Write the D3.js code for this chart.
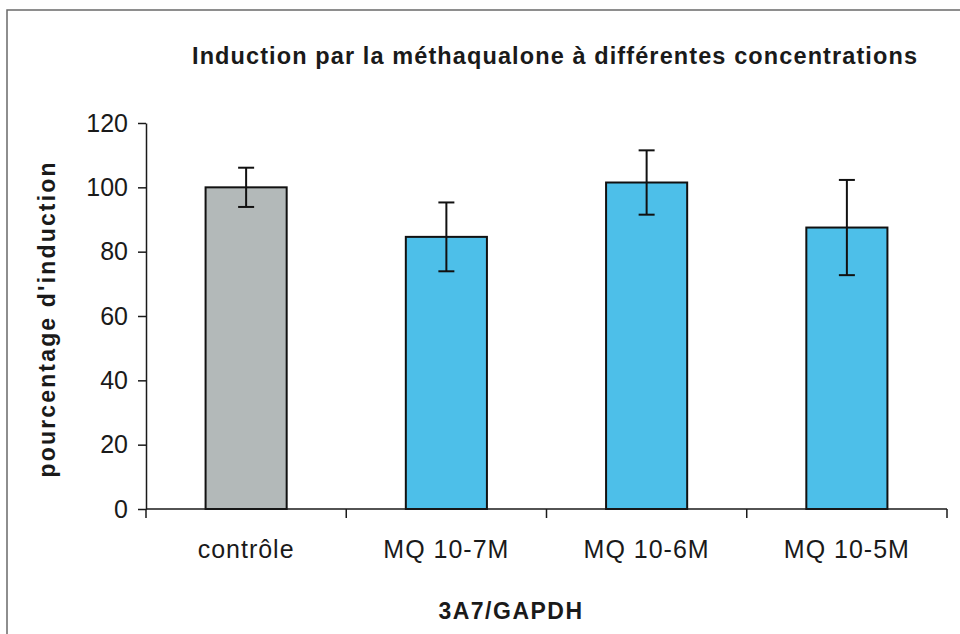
<!DOCTYPE html>
<html>
<head>
<meta charset="utf-8">
<script src="https://cdn.jsdelivr.net/npm/d3@7"></script>
<style>
  html, body { margin: 0; padding: 0; background: #fff; }
  svg { display: block; }
  text { font-family: "Liberation Sans", Arial, Helvetica, sans-serif; fill: #1a1a1a; }
</style>
</head>
<body>
<svg id="chart" width="960" height="634"></svg>
<script>
// Data
const categories = ["contrôle", "MQ 10-7M", "MQ 10-6M", "MQ 10-5M"];
const values = [100, 84.6, 101.5, 87.5];
const errors = [6.1, 10.7, 10.0, 14.8];
const yTicks = [0, 20, 40, 60, 80, 100, 120];
const barColors = ["#b3b9b9", "#4dbfe9"];

const titleText = "Induction par la méthaqualone à différentes concentrations";
const yTitleText = "pourcentage d'induction";
const xTitleText = "3A7/GAPDH";

const W = 960, H = 634;
const plot = { left: 146, right: 947, top: 123, bottom: 509 };

const svg = d3.select("#chart");

svg.append("rect").attr("width", W).attr("height", H).attr("fill", "#fff");

// Outer chart frame (top and left edges)
svg.append("path")
  .attr("d", `M7,${H} L7,10 L${W},10`)
  .attr("fill", "none")
  .attr("stroke", "#6a6a6a")
  .attr("stroke-width", 1.5);

const x = d3.scaleBand()
  .domain(categories)
  .range([plot.left, plot.right])
  .padding(0);

const y = d3.scaleLinear()
  .domain([0, 120])
  .range([plot.bottom, plot.top]);

const barW = x.bandwidth() * 0.405;

// Bars
svg.append("g").selectAll("rect")
  .data(categories)
  .join("rect")
  .attr("x", d => x(d) + x.bandwidth() / 2 - barW / 2)
  .attr("y", (d, i) => y(values[i]))
  .attr("width", barW)
  .attr("height", (d, i) => y(0) - y(values[i]))
  .attr("fill", (d, i) => i === 0 ? barColors[0] : barColors[1])
  .attr("stroke", "#111")
  .attr("stroke-width", 2);

// Error bars
const capW = 16;
const eg = svg.append("g").attr("stroke", "#111").attr("stroke-width", 2);
categories.forEach((c, i) => {
  const cx = x(c) + x.bandwidth() / 2;
  const hi = y(values[i] + errors[i]);
  const lo = y(values[i] - errors[i]);
  eg.append("line").attr("x1", cx).attr("x2", cx).attr("y1", hi).attr("y2", lo);
  eg.append("line").attr("x1", cx - capW / 2).attr("x2", cx + capW / 2).attr("y1", hi).attr("y2", hi);
  eg.append("line").attr("x1", cx - capW / 2).attr("x2", cx + capW / 2).attr("y1", lo).attr("y2", lo);
});

// Y axis
const yAxis = svg.append("g")
  .attr("transform", `translate(${plot.left},0)`)
  .call(d3.axisLeft(y).tickValues(yTicks).tickSize(8).tickPadding(10).tickSizeOuter(0));
yAxis.select(".domain").attr("stroke", "#1a1a1a").attr("stroke-width", 1.5);
yAxis.selectAll(".tick line").attr("stroke", "#1a1a1a").attr("stroke-width", 1.5);
yAxis.selectAll(".tick text")
  .style("font-size", "25px")
  .attr("fill", "#1a1a1a");

// X axis: baseline with ticks at category boundaries
const boundaries = categories.map(c => x(c)).concat([x.range()[1]]);
const xg = svg.append("g");
xg.append("line")
  .attr("x1", plot.left).attr("x2", plot.right)
  .attr("y1", y(0)).attr("y2", y(0))
  .attr("stroke", "#1a1a1a").attr("stroke-width", 1.5);
xg.selectAll("line.tk")
  .data(boundaries)
  .join("line")
  .attr("class", "tk")
  .attr("x1", d => d).attr("x2", d => d)
  .attr("y1", y(0)).attr("y2", y(0) + 9)
  .attr("stroke", "#1a1a1a").attr("stroke-width", 1.5);
xg.selectAll("text")
  .data(categories)
  .join("text")
  .attr("x", d => x(d) + x.bandwidth() / 2)
  .attr("y", 558)
  .attr("text-anchor", "middle")
  .style("font-size", "25px")
  .style("letter-spacing", "1px")
  .text(d => d);

// Title
svg.append("text")
  .attr("x", 192)
  .attr("y", 64)
  .attr("textLength", 725)
  .attr("lengthAdjust", "spacing")
  .style("font-size", "23.5px")
  .style("font-weight", "bold")
  .text(titleText);

// Y axis title
svg.append("text")
  .attr("transform", "translate(55,320) rotate(-90)")
  .attr("text-anchor", "middle")
  .attr("textLength", 315)
  .attr("lengthAdjust", "spacing")
  .style("font-size", "23px")
  .style("font-weight", "bold")
  .text(yTitleText);

// X axis title
svg.append("text")
  .attr("x", 511)
  .attr("y", 619)
  .attr("text-anchor", "middle")
  .style("font-size", "23px")
  .style("font-weight", "bold")
  .style("letter-spacing", "1.5px")
  .text(xTitleText);
</script>
</body>
</html>
